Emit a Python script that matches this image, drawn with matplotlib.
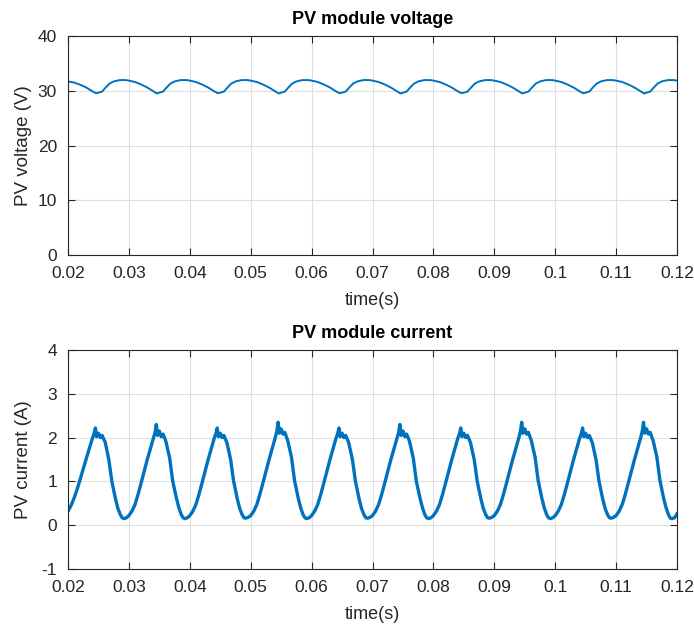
import numpy as np
import matplotlib
matplotlib.use("Agg")
import matplotlib.pyplot as plt

plt.rcParams['font.family'] = ['Liberation Sans', 'DejaVu Sans']
plt.rcParams['axes.unicode_minus'] = False

# one cycle lasts 10 ms, cycles start at these times
cycle_start = [0.02, 0.03, 0.04, 0.05, 0.06, 0.07, 0.08, 0.09, 0.10, 0.11]

# voltage, points inside each cycle (offset in ms, value in V)
v_offset_ms = [0.0, 1.0, 2.0, 3.0, 4.0, 4.6, 5.0, 5.6, 6.2, 6.8, 7.5, 8.5, 9.5]
v_cycles = [
    [31.7, 31.5, 31.1, 30.6, 29.9, 29.55, 29.65, 29.85, 30.6, 31.3, 31.7, 31.95, 31.95],
    [31.85, 31.6, 31.15, 30.6, 29.9, 29.5, 29.65, 29.85, 30.6, 31.3, 31.7, 31.95, 31.95],
    [31.85, 31.6, 31.15, 30.6, 29.9, 29.55, 29.65, 29.85, 30.6, 31.3, 31.7, 31.95, 31.95],
    [31.85, 31.6, 31.15, 30.6, 29.9, 29.5, 29.65, 29.85, 30.6, 31.3, 31.7, 31.95, 31.95],
    [31.85, 31.6, 31.15, 30.6, 29.9, 29.55, 29.65, 29.85, 30.6, 31.3, 31.7, 31.95, 31.95],
    [31.85, 31.6, 31.15, 30.6, 29.9, 29.5, 29.65, 29.85, 30.6, 31.3, 31.7, 31.95, 31.95],
    [31.85, 31.6, 31.15, 30.6, 29.9, 29.55, 29.65, 29.85, 30.6, 31.3, 31.7, 31.95, 31.95],
    [31.85, 31.6, 31.15, 30.6, 29.9, 29.5, 29.65, 29.85, 30.6, 31.3, 31.7, 31.95, 31.95],
    [31.85, 31.6, 31.15, 30.6, 29.9, 29.55, 29.65, 29.85, 30.6, 31.3, 31.7, 31.95, 31.95],
    [31.85, 31.6, 31.15, 30.6, 29.9, 29.5, 29.65, 29.85, 30.6, 31.3, 31.7, 31.95, 31.95],
]
v_end = 31.85

# current, points inside each cycle (offset in ms, value in A)
i_offset_ms = [0.0, 0.5, 1.0, 1.5, 2.0, 3.0, 4.0, 4.3, 4.5, 4.7, 5.0, 5.3, 5.6, 5.9, 6.1,
               6.7, 7.2, 7.8, 8.2, 8.6, 8.9, 9.2, 9.6]
i_cycles = [
    [0.32, 0.45, 0.62, 0.82, 1.05, 1.52, 1.98, 2.1, 2.22, 2.02, 2.1, 2.0, 2.05, 1.95, 1.9, 1.5, 1.0, 0.6, 0.38, 0.24, 0.17, 0.15, 0.17],
    [0.22, 0.32, 0.47, 0.7, 0.96, 1.49, 1.98, 2.12, 2.3, 2.05, 2.15, 2.02, 2.08, 1.98, 1.9, 1.53, 1.0, 0.62, 0.4, 0.24, 0.17, 0.15, 0.17],
    [0.22, 0.32, 0.47, 0.7, 0.96, 1.49, 1.98, 2.1, 2.22, 2.02, 2.1, 2.0, 2.05, 1.95, 1.88, 1.5, 1.0, 0.6, 0.38, 0.24, 0.17, 0.16, 0.18],
    [0.22, 0.32, 0.47, 0.7, 0.96, 1.49, 1.98, 2.15, 2.35, 2.1, 2.2, 2.08, 2.12, 2.0, 1.92, 1.55, 1.02, 0.62, 0.4, 0.24, 0.17, 0.15, 0.17],
    [0.22, 0.32, 0.47, 0.7, 0.96, 1.49, 1.98, 2.1, 2.22, 2.02, 2.1, 2.0, 2.05, 1.95, 1.88, 1.5, 1.0, 0.6, 0.38, 0.24, 0.17, 0.16, 0.18],
    [0.22, 0.32, 0.47, 0.7, 0.96, 1.49, 1.98, 2.12, 2.3, 2.05, 2.15, 2.02, 2.08, 1.98, 1.9, 1.53, 1.0, 0.62, 0.4, 0.24, 0.17, 0.15, 0.17],
    [0.22, 0.32, 0.47, 0.7, 0.96, 1.49, 1.98, 2.1, 2.22, 2.02, 2.1, 2.0, 2.05, 1.95, 1.88, 1.5, 1.0, 0.6, 0.38, 0.24, 0.17, 0.16, 0.18],
    [0.22, 0.32, 0.47, 0.7, 0.96, 1.49, 1.98, 2.15, 2.35, 2.1, 2.2, 2.08, 2.12, 2.0, 1.92, 1.55, 1.02, 0.62, 0.4, 0.24, 0.17, 0.15, 0.17],
    [0.22, 0.32, 0.47, 0.7, 0.96, 1.49, 1.98, 2.1, 2.22, 2.02, 2.1, 2.0, 2.05, 1.95, 1.88, 1.5, 1.0, 0.6, 0.38, 0.24, 0.17, 0.16, 0.18],
    [0.22, 0.32, 0.47, 0.7, 0.96, 1.49, 1.98, 2.15, 2.35, 2.1, 2.2, 2.08, 2.12, 2.0, 1.92, 1.55, 1.02, 0.62, 0.4, 0.24, 0.16, 0.15, 0.17],
]
i_end = 0.26

x_ticks = [0.02, 0.03, 0.04, 0.05, 0.06, 0.07, 0.08, 0.09, 0.1, 0.11, 0.12]
x_ticklabels = ["0.02", "0.03", "0.04", "0.05", "0.06", "0.07", "0.08", "0.09", "0.1", "0.11", "0.12"]


def build(offsets_ms, cycles, end_value):
    t, y = [], []
    for start, vals in zip(cycle_start, cycles):
        t += [start + o / 1000.0 for o in offsets_ms]
        y += vals
    t.append(0.12)
    y.append(end_value)
    return np.array(t), np.array(y)


t_v, volt = build(v_offset_ms, v_cycles, v_end)
t_i, curr = build(i_offset_ms, i_cycles, i_end)

blue = "#0072BD"
dark = "#262626"

fig = plt.figure(figsize=(6.94, 6.31), dpi=100)
ax1 = fig.add_axes([68 / 694, 1 - 255 / 631, 609 / 694, 219 / 631])
ax2 = fig.add_axes([68 / 694, 1 - 569 / 631, 609 / 694, 219 / 631])


def style(ax):
    ax.set_xlim(0.02, 0.12)
    ax.set_xticks(x_ticks)
    ax.set_xticklabels(x_ticklabels)
    ax.grid(True, color="#dfdfdf", linewidth=0.8)
    ax.set_axisbelow(True)
    ax.tick_params(direction="in", top=True, right=True, length=5, width=0.8,
                   colors=dark, labelsize=12.5, pad=8)
    for s in ax.spines.values():
        s.set_color(dark)
        s.set_linewidth(0.8)
    ax.set_xlabel("time(s)", fontsize=13, color=dark, labelpad=8)
    ax.yaxis.set_label_coords(-0.059, 0.5)


ax1.plot(t_v, volt, color=blue, linewidth=1.4)
style(ax1)
ax1.set_ylim(0, 40)
ax1.set_yticks([0, 10, 20, 30, 40])
ax1.set_ylabel("PV voltage (V)", fontsize=13.5, color=dark)
ax1.set_title("PV module voltage", fontsize=13, fontweight="bold", color="black", pad=9)

ax2.plot(t_i, curr, color=blue, linewidth=2.4)
style(ax2)
ax2.set_ylim(-1, 4)
ax2.set_yticks([-1, 0, 1, 2, 3, 4])
ax2.set_ylabel("PV current (A)", fontsize=13.5, color=dark)
ax2.set_title("PV module current", fontsize=13, fontweight="bold", color="black", pad=9)

fig.savefig("out.png", dpi=100)
